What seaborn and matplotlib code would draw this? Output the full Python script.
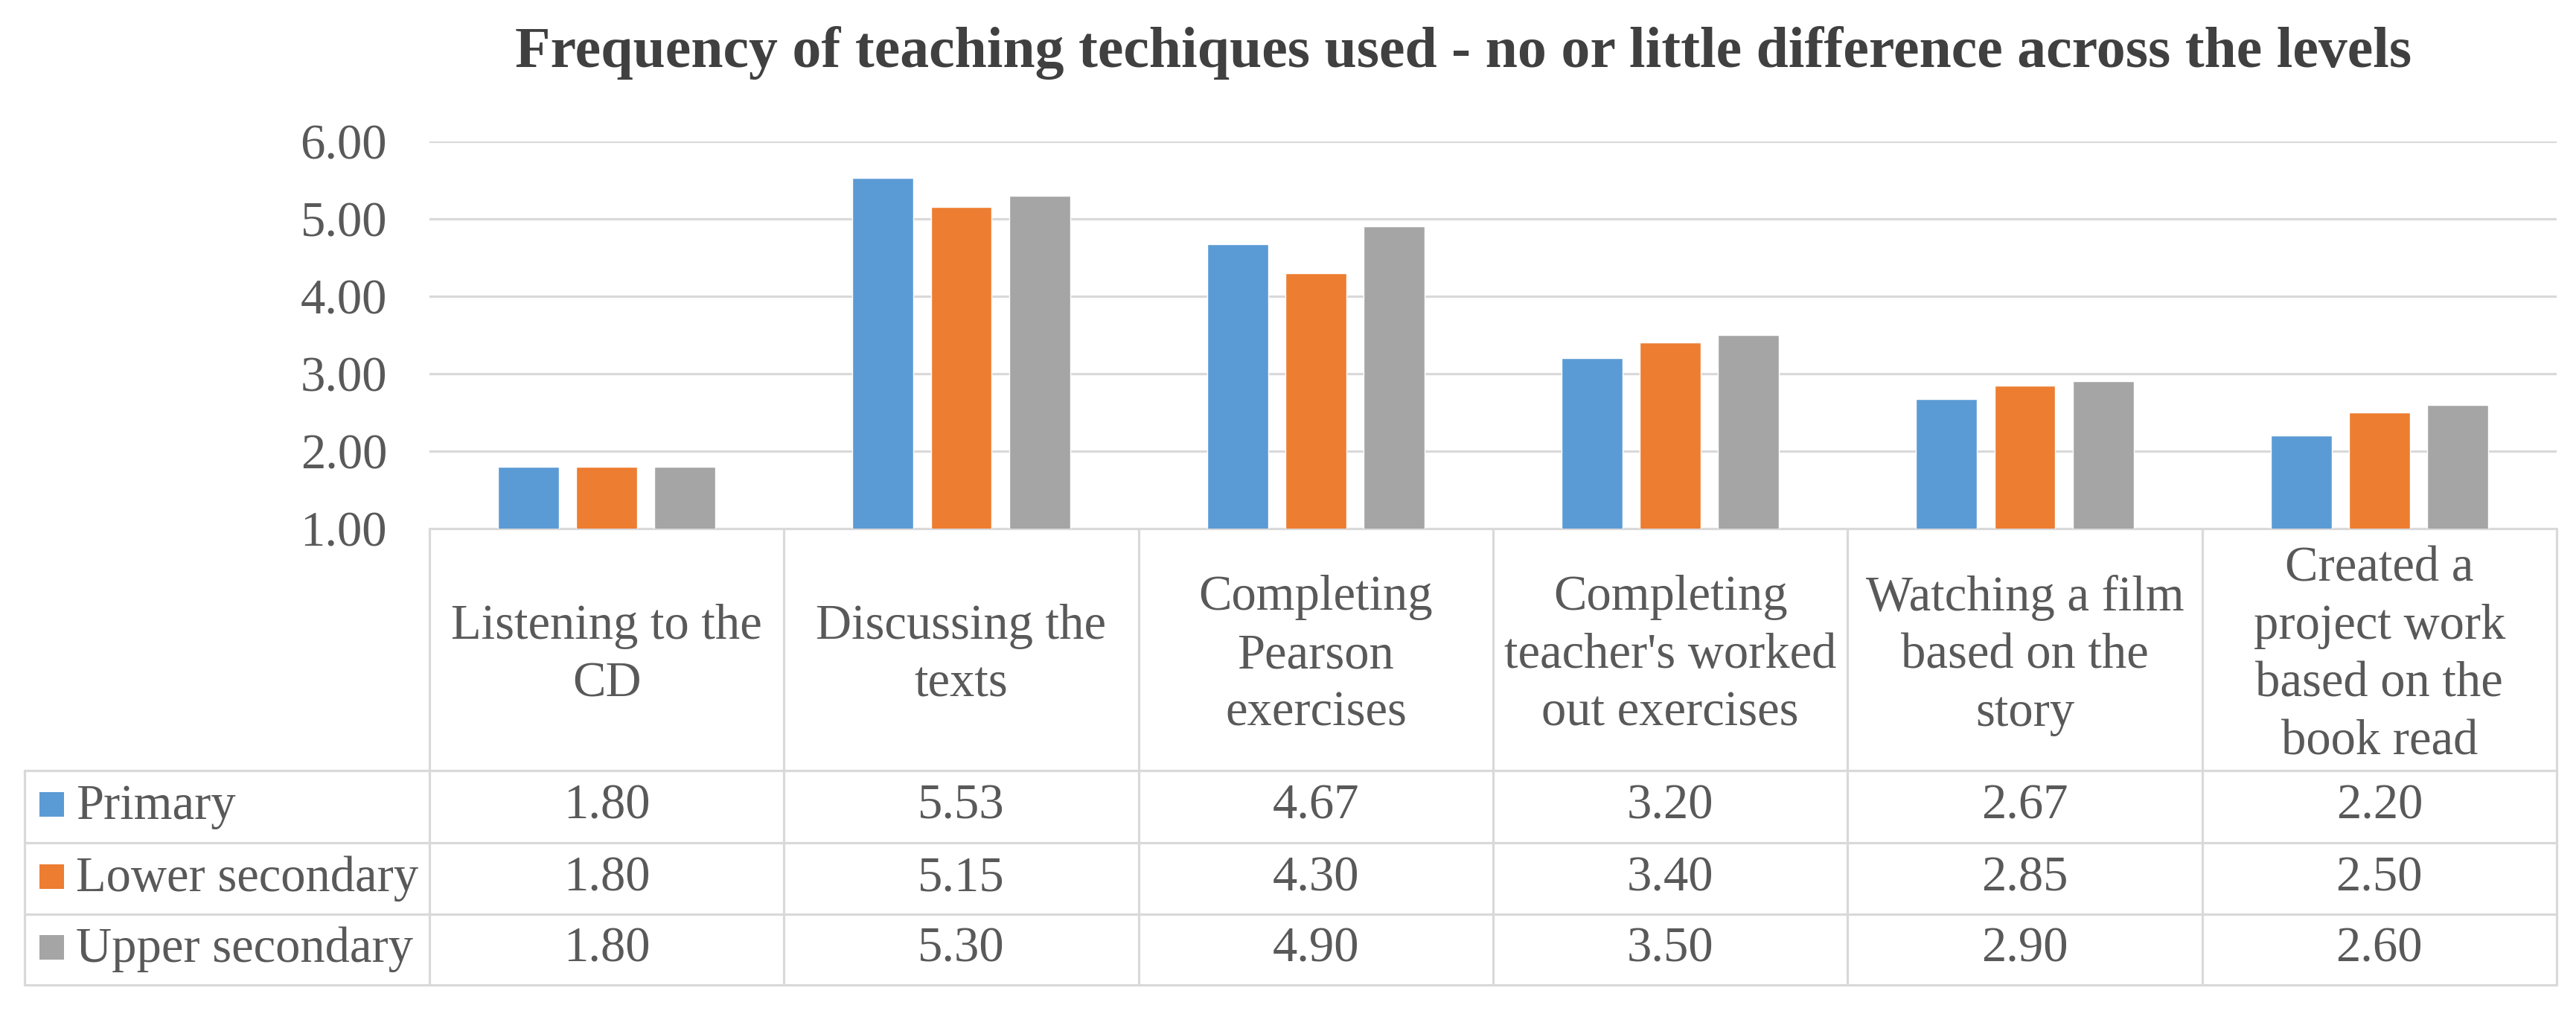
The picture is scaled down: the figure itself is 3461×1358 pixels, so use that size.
import matplotlib
matplotlib.use("Agg")
import matplotlib.pyplot as plt
import matplotlib.transforms as mtransforms
from matplotlib.patches import Rectangle
import seaborn as sns
import pandas as pd

# data
techniques = ["Listening to the\nCD", "Discussing the\ntexts", "Completing\nPearson\nexercises",
              "Completing\nteacher's worked\nout exercises", "Watching a film\nbased on the\nstory",
              "Created a\nproject work\nbased on the\nbook read"]
levels = ["Primary", "Lower secondary", "Upper secondary"]
primary = [1.80, 5.53, 4.67, 3.20, 2.67, 2.20]
lower_secondary = [1.80, 5.15, 4.30, 3.40, 2.85, 2.50]
upper_secondary = [1.80, 5.30, 4.90, 3.50, 2.90, 2.60]
colors = ["#5B9BD5", "#ED7D31", "#A5A5A5"]

values = [primary, lower_secondary, upper_secondary]
rows = []
for lev, vals in zip(levels, values):
    for i, v in enumerate(vals):
        rows.append({"technique": i, "level": lev, "score": v})
df = pd.DataFrame(rows)

sns.set_theme(style="white")
plt.rcParams["font.family"] = ["Liberation Serif", "DejaVu Serif"]

W, H = 3462, 1358
fig = plt.figure(figsize=(W / 100, H / 100), dpi=100)
fig.patch.set_facecolor("white")

# plot area in pixels
x0, x1 = 577, 3435
ytop, ybot = 190, 710
ax = fig.add_axes([x0 / W, 1 - ybot / H, (x1 - x0) / W, (ybot - ytop) / H])

sns.barplot(data=df, x="technique", y="score", hue="level", palette=colors,
            width=0.662, gap=0.22, ax=ax, legend=False, saturation=1, zorder=3)

txt = "#595959"
grid_c = "#D9D9D9"
lw = 2.3

ax.set_xlim(-0.5, 5.5)
ax.set_ylim(1, 6)
ax.set_yticks([1, 2, 3, 4, 5, 6])
ax.set_yticklabels([f"{t:.2f}" for t in [1, 2, 3, 4, 5, 6]])
ax.tick_params(axis="y", length=0, pad=41, labelsize=48, labelcolor=txt)
ax.set_xticks([])
ax.set_xlabel("")
ax.set_ylabel("")
for s in ax.spines.values():
    s.set_visible(False)
for t in [2, 3, 4, 5, 6]:
    ax.axhline(t, color=grid_c, lw=lw, zorder=1)

# data table under the plot
ph = ybot - ytop
def ay(py):
    return (ybot - py) / ph

blend = mtransforms.blended_transform_factory(ax.transData, ax.transAxes)
leg_left = (33 - x0) / (x1 - x0)
row_lines = [1035, 1132, 1228, 1323]

def line(xs, ys, tr):
    ax.add_line(plt.Line2D(xs, ys, transform=tr, color=grid_c, lw=lw, clip_on=False, zorder=2))

line([0, 1], [0, 0], ax.transAxes)
for py in row_lines:
    line([leg_left, 1], [ay(py), ay(py)], ax.transAxes)
for k in range(7):
    line([k - 0.5, k - 0.5], [0, ay(row_lines[-1])], blend)
line([leg_left, leg_left], [ay(row_lines[0]), ay(row_lines[-1])], ax.transAxes)

head_y = ay((ybot + row_lines[0]) / 2 + 8)
for i, lab in enumerate(techniques):
    ax.text(i, head_y, lab, transform=blend, ha="center", va="center",
            fontsize=48, color=txt, linespacing=1.36, clip_on=False)

sq_w = 33 / (x1 - x0)
sq_h = 33 / ph
for r, (lev, vals, c) in enumerate(zip(levels, values, colors)):
    yc = ay((row_lines[r] + row_lines[r + 1]) / 2)
    ax.add_patch(Rectangle((leg_left + 20 / (x1 - x0), yc - sq_h / 2 + 0.005), sq_w, sq_h,
                           transform=ax.transAxes, facecolor=c, edgecolor="none", clip_on=False))
    ax.text((102 - x0) / (x1 - x0), yc, lev, transform=ax.transAxes, ha="left", va="center",
            fontsize=48, color=txt, clip_on=False)
    for i, v in enumerate(vals):
        ax.text(i, yc, f"{v:.2f}", transform=blend, ha="center", va="center",
                fontsize=48, color=txt, clip_on=False)

fig.text(1966 / W, 1 - 90 / H, "Frequency of teaching techiques used - no or little difference across the levels",
         ha="center", va="baseline", fontsize=56, fontweight="bold", color="#404040")

fig.savefig("out.png", dpi=100, facecolor="white")
